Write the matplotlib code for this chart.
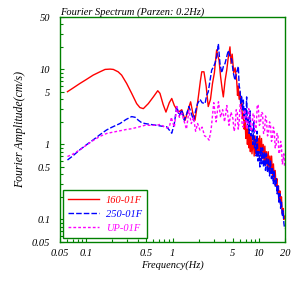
import matplotlib
matplotlib.use("Agg")
import matplotlib.pyplot as plt
from matplotlib.ticker import FixedLocator, LogLocator, NullFormatter

plt.rcParams['font.family'] = ['Liberation Serif', 'DejaVu Serif']
plt.rcParams['font.style'] = 'italic'
plt.rcParams['font.size'] = 7.5

# 160-01F (red, solid)
freq_red = [0.061, 0.07, 0.085, 0.1, 0.121, 0.145, 0.166, 0.19, 0.207, 0.235,
            0.258, 0.295, 0.337, 0.385, 0.42, 0.46, 0.525, 0.6, 0.675, 0.716,
            0.78, 0.84, 0.918, 0.98, 1.05, 1.17, 1.28, 1.4, 1.5, 1.62,
            1.72, 1.82, 1.9, 2.0, 2.1, 2.18, 2.31, 2.45, 2.59, 2.75,
            2.9, 3.05, 3.24, 3.35, 3.45, 3.6, 3.75, 3.87, 4.05, 4.24,
            4.4, 4.62, 4.75, 4.9, 5.1, 5.3,
            5.52, 5.65, 5.75, 5.9, 6.04, 6.2, 6.3, 6.45, 6.6, 6.75,
            6.9, 7.05, 7.2, 7.35, 7.5, 7.65, 7.8, 7.95, 8.1, 8.3,
            8.6, 8.8, 9.0, 9.2, 9.4, 9.6, 9.8, 10.0, 10.2, 10.45,
            10.7, 10.95, 11.2, 11.45, 11.7, 11.95, 12.2, 12.5, 12.8, 13.1,
            13.4, 13.7, 14.0, 14.35, 14.7, 15.05, 15.4, 15.75, 16.1, 16.45,
            16.8, 17.15, 17.5, 17.85, 18.2, 18.6, 19.0, 19.4, 19.8]
amp_red = [5.05, 5.6, 6.5, 7.3, 8.4, 9.3, 10.0, 10.1, 10.0, 9.3,
           8.4, 6.5, 4.8, 3.5, 3.1, 3.0, 3.5, 4.3, 5.2, 4.8,
           3.4, 2.7, 3.6, 4.1, 3.3, 2.7, 2.9, 2.1, 2.8, 3.7,
           2.6, 2.1, 2.9, 4.5, 7.0, 9.3, 9.3, 6.0, 3.2, 4.0,
           6.5, 9.0, 18.2, 15.0, 13.4, 8.0, 5.5, 4.3, 7.0, 9.8,
           14.0, 20.0, 12.0, 16.0, 9.0, 10.5,
           7.2, 4.5, 6.0, 4.0, 5.0, 3.0, 3.6, 2.2, 2.6, 1.6,
           2.1, 1.2, 1.8, 1.0, 1.6, 0.9, 1.4, 0.8, 1.3, 0.75,
           1.2, 0.7, 1.3, 0.75, 1.1, 0.7, 1.2, 0.75, 1.3, 0.7,
           1.2, 0.65, 1.0, 0.6, 0.95, 0.55, 0.8, 0.5, 0.8, 0.45,
           0.7, 0.42, 0.7, 0.38, 0.55, 0.32, 0.45, 0.28, 0.35, 0.22,
           0.28, 0.18, 0.24, 0.15, 0.2, 0.12, 0.14, 0.1, 0.11]

# 250-01F (blue, dashed)
freq_blue = [0.061, 0.07, 0.085, 0.1, 0.121, 0.145, 0.173, 0.2, 0.247, 0.29,
             0.337, 0.37, 0.403, 0.44, 0.48, 0.55, 0.656, 0.75, 0.857, 0.92,
             0.98, 1.05, 1.12, 1.2, 1.28, 1.37, 1.45, 1.55, 1.65, 1.75,
             1.85, 1.95, 2.08, 2.2, 2.38, 2.48, 2.59, 2.72, 2.84, 3.0,
             3.1, 3.25, 3.39, 3.54, 3.71, 3.88, 4.05, 4.25, 4.42, 4.62,
             4.84, 5.05, 5.28, 5.5,
             5.77, 5.9, 6.04, 6.15, 6.3, 6.45, 6.59, 6.75, 6.9, 7.05,
             7.2, 7.35, 7.53, 7.7, 7.9, 8.1, 8.3, 8.5, 8.7, 8.9,
             9.1, 9.3, 9.5, 9.75, 10.0, 10.25, 10.5, 10.75, 11.0, 11.3,
             11.6, 11.9, 12.2, 12.55, 12.9, 13.25, 13.6, 13.95, 14.3, 14.65,
             15.0, 15.4, 15.8, 16.2, 16.6, 17.0, 17.4, 17.8, 18.2, 18.6,
             19.0, 19.4, 19.8]
amp_blue = [0.62, 0.7, 0.85, 0.98, 1.15, 1.35, 1.56, 1.7, 1.9, 2.15,
            2.35, 2.3, 2.1, 1.95, 1.9, 1.85, 1.8, 1.75, 1.72, 1.55,
            1.41, 1.9, 3.2, 2.4, 2.9, 2.1, 2.5, 3.2, 2.6, 2.1,
            2.8, 3.5, 4.0, 3.6, 3.5, 4.5, 5.0, 7.2, 9.8, 11.0,
            12.1, 15.0, 22.0, 12.0, 9.0, 11.0, 12.0, 15.0, 18.0, 15.0,
            13.4, 9.0, 7.2, 9.0,
            11.0, 6.0, 5.4, 3.5, 4.5, 2.8, 3.9, 2.4, 3.0, 2.0,
            4.3, 1.8, 2.3, 1.4, 2.8, 1.3, 1.6, 1.0, 2.0, 0.9,
            1.2, 0.7, 1.5, 0.6, 0.8, 0.5, 0.9, 0.55, 0.9, 0.5,
            0.8, 0.45, 0.75, 0.42, 0.65, 0.38, 0.6, 0.35, 0.5, 0.3,
            0.45, 0.27, 0.35, 0.22, 0.28, 0.17, 0.22, 0.14, 0.17, 0.11,
            0.13, 0.09, 0.075]

# UP-01F (magenta, short dash)
freq_mag = [0.061, 0.07, 0.085, 0.1, 0.121, 0.145, 0.173, 0.2, 0.247, 0.29,
            0.337, 0.4, 0.48, 0.55, 0.656, 0.72, 0.78, 0.857, 0.92, 0.97,
            1.0, 1.05, 1.12, 1.2, 1.28, 1.37, 1.45, 1.55, 1.65, 1.75,
            1.85, 1.95, 2.08, 2.2, 2.35, 2.5, 2.65, 2.8, 3.0, 3.2,
            3.4, 3.6, 3.8, 4.0, 4.25, 4.5, 4.75,
            5.0, 5.15, 5.3, 5.45, 5.6, 5.75, 5.9, 6.05, 6.2, 6.4,
            6.6, 6.8, 7.0, 7.2, 7.4, 7.6, 7.8, 8.05, 8.3, 8.55,
            8.8, 9.05, 9.3, 9.55, 9.8, 10.1, 10.4, 10.7, 11.0, 11.3,
            11.6, 11.9, 12.2, 12.55, 12.9, 13.25, 13.6, 13.95, 14.3, 14.65,
            15.0, 15.4, 15.8, 16.2, 16.6, 17.0, 17.4, 17.8, 18.2, 18.6,
            19.0, 19.4, 19.8]
amp_mag = [0.69, 0.74, 0.85, 0.97, 1.13, 1.28, 1.4, 1.45, 1.52, 1.58,
           1.62, 1.7, 1.8, 1.8, 1.8, 1.85, 1.75, 1.66, 1.7, 2.3,
           2.0, 1.7, 3.2, 2.3, 2.6, 2.0, 1.6, 2.8, 1.9, 2.3,
           1.5, 1.9, 1.55, 1.7, 1.3, 1.25, 1.14, 1.6, 3.6, 2.0,
           3.7, 2.3, 2.9, 2.0, 3.3, 1.8, 2.7,
           2.2, 1.5, 1.7, 2.9, 2.8, 1.6, 2.0, 3.4, 3.2, 1.8,
           1.7, 2.9, 2.6, 1.6, 1.9, 3.0, 2.8, 1.5, 1.6, 2.6,
           2.4, 1.5, 1.7, 3.4, 3.3, 1.8, 1.9, 2.7, 2.6, 1.4,
           1.5, 2.4, 2.2, 1.3, 1.4, 2.0, 1.8, 1.1, 1.2, 1.7,
           1.6, 0.9, 1.0, 1.4, 1.3, 0.75, 0.8, 1.1, 0.95, 0.55,
           0.6, 0.75, 0.5]

x_ticks = [0.05, 0.1, 0.5, 1, 5, 10, 20]
x_labels = ['0.05', '0.1', '0.5', '1', '5', '10', '20']
y_ticks = [0.05, 0.1, 0.5, 1, 5, 10, 50]
y_labels = ['0.05', '0.1', '0.5', '1', '5', '10', '50']

green = '#008000'

fig = plt.figure(figsize=(3.0, 2.82), dpi=100)
ax = fig.add_axes([0.2, 0.1418, 0.75, 0.7979])

ax.plot(freq_red, amp_red, color='#ff0000', lw=1.0, label='160-01F')
ax.plot(freq_blue, amp_blue, color='#0000ff', lw=1.0, dashes=(4, 1.5), label='250-01F')
ax.plot(freq_mag, amp_mag, color='#ff00ff', lw=1.0, dashes=(2, 1.5), label='UP-01F')

ax.set_xscale('log')
ax.set_yscale('log')
ax.set_xlim(0.05, 20)
ax.set_ylim(0.05, 50)

ax.xaxis.set_major_locator(FixedLocator(x_ticks))
ax.set_xticklabels(x_labels)
ax.yaxis.set_major_locator(FixedLocator(y_ticks))
ax.set_yticklabels(y_labels)
ax.xaxis.set_minor_locator(LogLocator(base=10, subs=range(2, 10)))
ax.yaxis.set_minor_locator(LogLocator(base=10, subs=range(2, 10)))
ax.xaxis.set_minor_formatter(NullFormatter())
ax.yaxis.set_minor_formatter(NullFormatter())

ax.tick_params(which='both', direction='in', color=green, labelsize=7.5)
ax.tick_params(which='major', length=3, width=0.8)
ax.tick_params(which='minor', length=2, width=0.8)
ax.tick_params(axis='y', pad=7)
ax.tick_params(axis='x', pad=5)
for sp in ax.spines.values():
    sp.set_color(green)
    sp.set_linewidth(1.0)

ax.set_xlabel('Frequency(Hz)', fontsize=7.5, labelpad=2)
ax.set_ylabel('Fourier Amplitude(cm/s)', fontsize=8.5, labelpad=4)
fig.text(0.2, 1 - 12 / 282, 'Fourier Spectrum (Parzen: 0.2Hz)', fontsize=7.5,
         ha='left', va='center')

leg = ax.legend(loc='lower left', bbox_to_anchor=(0.013, 0.018), borderaxespad=0,
                fancybox=False, edgecolor=green, framealpha=1, fontsize=7.5,
                handlelength=3.0, labelspacing=0.45, borderpad=0.5, handletextpad=0.6)
leg.get_frame().set_linewidth(1.0)
for txt, c in zip(leg.get_texts(), ['#ff0000', '#0000ff', '#ff00ff']):
    txt.set_color(c)

fig.savefig('out.png', dpi=100)
